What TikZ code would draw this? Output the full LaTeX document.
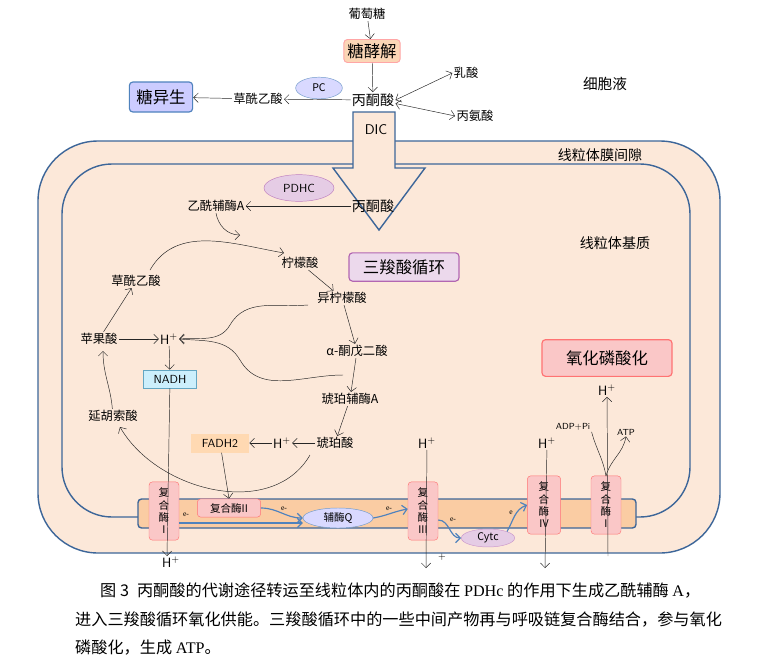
\documentclass[tikz,border=0pt]{standalone}
\usepackage{fontspec}
\setmainfont{Liberation Serif}
\newfontfamily\cjk{Noto Sans CJK SC}
\usetikzlibrary{arrows.meta, shapes.geometric, positioning}
\definecolor{memblue}{rgb}{0.24, 0.40, 0.60}
\definecolor{peach}{rgb}{0.99, 0.91, 0.85}
\definecolor{bandorange}{rgb}{0.98, 0.80, 0.64}
\definecolor{cplxpink}{rgb}{0.98, 0.78, 0.78}
\definecolor{eblue}{rgb}{0.31, 0.51, 0.74}
\tikzset{
  lbl/.style={font=\cjk\fontsize{10.5}{12}\selectfont, inner sep=1pt},
  hp/.style={font=\fontsize{11.5}{13}\selectfont\sffamily, inner sep=1pt},
  big/.style={font=\cjk\fontsize{14}{16}\selectfont, rounded corners=3pt, line width=1pt, minimum height=0.9cm, inner xsep=6pt},
  cplx/.style={draw=red!55, fill=cplxpink, rounded corners=3pt, font=\cjk\fontsize{9}{10.5}\selectfont, align=center, minimum width=0.9cm, minimum height=1.75cm, inner sep=1pt},
  ell/.style={ellipse, draw=eblue!80, font=\cjk\fontsize{9}{10}\selectfont, inner sep=1pt},
  mem/.style={draw=memblue, line width=1.2pt},
  arr/.style={-{Straight Barb[length=4pt]}, gray!30!black, thin},
  earr/.style={-{Straight Barb[length=4pt]}, eblue, line width=1pt},
  elbl/.style={font=\fontsize{6.5}{7}\selectfont, inner sep=0pt},
  capt/.style={font=\cjk\fontsize{13.8}{16}\selectfont, anchor=west, inner sep=0pt}
}
\begin{document}
\begin{tikzpicture}[x=0.03cm, y=-0.03cm]
\useasboundingbox (0,0) rectangle (777,664);
\fill[white] (0,0) rectangle (777,664);

% membranes
\draw[mem, fill=peach, rounded corners=1.8cm] (38,141) rectangle (720,553);
\draw[mem, rounded corners=1.5cm] (138,517) -- (62,517) -- (62,164) -- (690,164) -- (690,517) -- (636,517);
\draw[mem, fill=bandorange, rounded corners=3pt] (138,499) rectangle (636,528);
\draw[mem, fill=peach, line join=miter] (353,112) -- (395,112) -- (395,168) -- (425,168) -- (379,230) -- (333,168) -- (353,168) -- cycle;
\node[font=\fontsize{12}{14}\selectfont\sffamily] (dic) at (376,130) {DIC};

% cytosol
\node[lbl] (glc) at (367,14) {葡萄糖};
\node[big, draw=red!35, fill=bandorange!80, minimum height=0.65cm, inner xsep=3pt, line width=0.8pt] (gly) at (372,51) {糖酵解};
\node[lbl, font=\cjk\fontsize{12}{14}\selectfont] (pyr) at (373,100) {丙酮酸};
\node[lbl] (lac) at (466,73) {乳酸};
\node[lbl] (ala) at (475,116) {丙氨酸};
\node[lbl] (oaac) at (258,99) {草酰乙酸};
\node[ell, fill=blue!15, minimum width=1.4cm, minimum height=0.65cm] (pc) at (319,88) {PC};
\node[big, draw=eblue, fill=blue!20] (gng) at (161,97) {糖异生};
\node[lbl, font=\cjk\fontsize{12.5}{14}\selectfont] (cyto) at (605,84) {细胞液};
\draw[arr] (glc) -- (gly);
\draw[arr] (gly) -- (pyr);
\draw[arr] (pyr) -- (oaac);
\draw[arr] (oaac) -- (gng);
\draw[{Straight Barb[length=4pt]}-{Straight Barb[length=4pt]}, gray!30!black] (pyr.east) -- (lac.west);
\draw[{Straight Barb[length=4pt]}-{Straight Barb[length=4pt]}, gray!30!black] ([yshift=-3pt]pyr.east) -- (ala.west);

% space labels
\node[lbl, font=\cjk\fontsize{12}{14}\selectfont] (ims) at (600,155) {线粒体膜间隙};
\node[lbl, font=\cjk\fontsize{12}{14}\selectfont] (mtx) at (615,243) {线粒体基质};

% matrix
\node[lbl, font=\cjk\fontsize{12}{14}\selectfont] (pyrm) at (373,206) {丙酮酸};
\node[lbl] (acoa) at (216,206) {乙酰辅酶A};
\node[ell, fill=violet!20, draw=violet!50, minimum width=2.1cm, minimum height=0.8cm, font=\fontsize{10}{11}\selectfont\sffamily] (pdhc) at (299,188) {PDHC};
\node[big, draw=violet!60, fill=violet!15, minimum height=0.85cm, minimum width=3.3cm] (tca) at (404,267) {三羧酸循环};
\node[lbl] (cit) at (300,263) {柠檬酸};
\node[lbl] (oaa) at (136,281) {草酰乙酸};
\node[lbl] (icit) at (342,298) {异柠檬酸};
\node[lbl] (mal) at (99,339) {苹果酸};
\node[hp] (h1) at (169,339) {H\textsuperscript{+}};
\node[lbl] (akg) at (357,351) {α-酮戊二酸};
\node[draw=cyan!50!gray, fill=cyan!20, font=\fontsize{10}{11}\selectfont\sffamily, minimum width=1.6cm, minimum height=0.55cm, inner sep=1pt] (nadh) at (170,379) {NADH};
\node[lbl] (scoa) at (350,399) {琥珀辅酶A};
\node[lbl] (fum) at (113,416) {延胡索酸};
\node[fill=orange!30, font=\fontsize{10}{11}\selectfont\sffamily, minimum width=1.75cm, minimum height=0.57cm, inner sep=1pt] (fadh) at (220,443) {FADH2};
\node[hp] (h2) at (282,443) {H\textsuperscript{+}};
\node[lbl] (suc) at (335,443) {琥珀酸};
\draw[arr] (pyrm) -- (acoa);
\draw[arr] (acoa.south) to[out=-80, in=180] (240,235);
\draw[arr] (150,270) to[out=60, in=170] (284,253);
\draw[arr] (cit) -- (icit);
\draw[arr] (icit) -- (akg);
\draw[arr] (308,305) to[out=185, in=60] (230,325) to[out=-120, in=5] (h1.east);
\draw[arr] (akg) -- (scoa);
\draw[arr] (343,375) to[out=180, in=-60] (240,360) to[out=120, in=-5] (h1.east);
\draw[arr] (scoa) -- (suc);
\draw[arr] (suc) -- (h2);
\draw[arr] (h2) -- (fadh);
\draw[arr] (310,455) to[out=-120, in=-60] (120,427);
\draw[arr] (fum) to[out=95, in=-90] (103,351);
\draw[arr] (mal) -- (oaa);
\draw[arr] (mal) -- (h1);
\draw[arr] (h1) -- (nadh);

% respiratory chain
\node[cplx] (c1) at (164,511) {复\\合\\酶\\I};
\node[cplx, minimum width=1.9cm, minimum height=0.55cm] (c2) at (229,508) {复合酶II};
\node[ell, fill=blue!15, minimum width=2.1cm, minimum height=0.6cm] (q) at (338,518) {辅酶Q};
\node[cplx] (c3) at (423,511) {复\\合\\酶\\III};
\node[ell, fill=violet!20, draw=violet!40, minimum width=1.6cm, minimum height=0.48cm] (cytc) at (488,538) {Cytc};
\node[cplx, minimum width=1cm] (c4) at (544,505) {复\\合\\酶\\IV};
\node[cplx] (c5) at (606,505) {复\\合\\酶\\I};
\coordinate (c1out) at (167,556);
\node[hp] (h3) at (171,562) {H\textsuperscript{+}};
\draw[arr] (nadh) -- (c1out);
\draw[arr] (fadh) -- (c2.north);
\draw[earr] (c1.east |- 0,523) -- (q.west |- 0,523);
\draw[earr] (c2.east) to[out=0, in=180] (q.west);
\draw[earr] (q.east) to[out=10, in=190] (c3.west |- 0,509);
\draw[earr] (c3.east |- 0,520) to[out=0, in=180] (cytc.west);
\draw[earr] (cytc.north east) to[out=60, in=200] (c4.west |- 0,505);
\node[elbl] (e1) at (186,515) {e-};
\node[elbl] (e2) at (284,509) {e-};
\node[elbl] (e3) at (389,509) {e-};
\node[elbl] (e4) at (453,520) {e-};
\node[elbl] (e5) at (511,513) {e};
\node[hp] (h4) at (427,443) {H\textsuperscript{+}};
\coordinate (c3out) at (426,568);
\node[font=\fontsize{8}{9}\selectfont\sffamily, inner sep=0pt] (plus) at (442,557) {+};
\draw[arr] (h4) -- (c3out);
\node[hp] (h5) at (547,443) {H\textsuperscript{+}};
\coordinate (c4out) at (545,568);
\draw[arr] (h5) -- (c4out);
\node[big, draw=red!55, fill=cplxpink, minimum width=3.9cm, minimum height=1.1cm] (oxp) at (607,358) {氧化磷酸化};
\node[hp] (h6) at (607,390) {H\textsuperscript{+}};
\node[font=\fontsize{7.5}{8}\selectfont\sffamily, inner sep=1pt] (adp) at (573,427) {ADP+Pi};
\node[font=\fontsize{7.5}{8}\selectfont\sffamily, inner sep=1pt] (atp) at (626,432) {ATP};
\coordinate (c5in) at (608,556);
\draw[arr] (c5in) -- (h6);
\draw[gray!30!black] (adp.south east) to[out=-75, in=100] (606,476);
\draw[arr] (606,476) to[out=75, in=-100] (atp.south);

% caption
\node[capt] (cap1) at (100,590) {图 3\enspace 丙酮酸的代谢途径转运至线粒体内的丙酮酸在 {\rmfamily PDHc} 的作用下生成乙酰辅酶 {\rmfamily A}，};
\node[capt] (cap2) at (75,620) {进入三羧酸循环氧化供能。三羧酸循环中的一些中间产物再与呼吸链复合酶结合，参与氧化};
\node[capt] (cap3) at (75,648) {磷酸化，生成 {\rmfamily ATP}。};
\end{tikzpicture}
\end{document}
